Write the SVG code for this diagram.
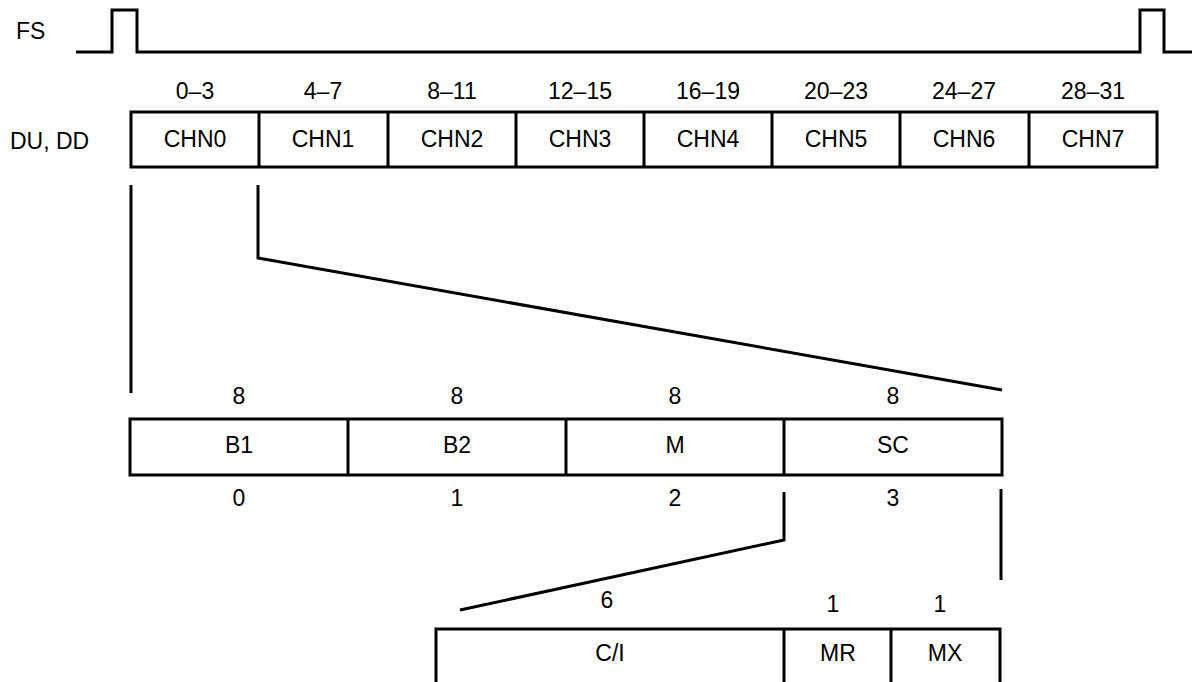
<svg xmlns="http://www.w3.org/2000/svg" width="1196" height="682" viewBox="0 0 1196 682">
<style>
text{font-family:"Liberation Sans",Arial,sans-serif;font-size:23px;fill:#000}
.c{text-anchor:middle}
.ln{fill:none;stroke:#000;stroke-width:3}
.bx{fill:#fff;stroke:#000;stroke-width:3}
</style>
<rect width="1196" height="682" fill="#fff"/>
<g id="fs">
<text x="16" y="39">FS</text>
<polyline class="ln" points="76,52 112,52 112,10 137,10 137,52 1140,52 1140,10 1164,10 1164,52 1192,52"/>
</g>
<g id="du-dd-label"><text x="10" y="149">DU, DD</text></g>
<g id="channels">
<rect class="bx" x="131" y="112" width="1026" height="55"/>
<path class="ln" d="M259,112V167M388,112V167M516,112V167M644,112V167M772,112V167M900,112V167M1029,112V167"/>
<text class="c" x="195" y="99">0–3</text>
<text class="c" x="323" y="99">4–7</text>
<text class="c" x="452" y="99">8–11</text>
<text class="c" x="580" y="99">12–15</text>
<text class="c" x="708" y="99">16–19</text>
<text class="c" x="836" y="99">20–23</text>
<text class="c" x="964" y="99">24–27</text>
<text class="c" x="1093" y="99">28–31</text>
<text class="c" x="195" y="147">CHN0</text>
<text class="c" x="323" y="147">CHN1</text>
<text class="c" x="452" y="147">CHN2</text>
<text class="c" x="580" y="147">CHN3</text>
<text class="c" x="708" y="147">CHN4</text>
<text class="c" x="836" y="147">CHN5</text>
<text class="c" x="964" y="147">CHN6</text>
<text class="c" x="1093" y="147">CHN7</text>
</g>
<g id="connectors">
<path class="ln" d="M131,185V393"/>
<polyline class="ln" points="258,185 258,258 1002,390"/>
<polyline class="ln" points="784,492 784,540 460,610"/>
<path class="ln" d="M1001,489V580"/>
</g>
<g id="bytes">
<rect class="bx" x="130" y="419" width="872" height="56"/>
<path class="ln" d="M348,419V475M566,419V475M784,419V475"/>
<text class="c" x="239" y="404">8</text>
<text class="c" x="457" y="404">8</text>
<text class="c" x="675" y="404">8</text>
<text class="c" x="893" y="404">8</text>
<text class="c" x="239" y="453">B1</text>
<text class="c" x="457" y="453">B2</text>
<text class="c" x="675" y="453">M</text>
<text class="c" x="893" y="453">SC</text>
<text class="c" x="239" y="506">0</text>
<text class="c" x="457" y="506">1</text>
<text class="c" x="675" y="506">2</text>
<text class="c" x="893" y="506">3</text>
</g>
<g id="bits">
<rect class="bx" x="436" y="629" width="564" height="70"/>
<path class="ln" d="M784,629V690M891,629V690"/>
<text class="c" x="607" y="608">6</text>
<text class="c" x="833" y="612">1</text>
<text class="c" x="940" y="612">1</text>
<text class="c" x="610" y="661">C/I</text>
<text class="c" x="838" y="661">MR</text>
<text class="c" x="945" y="661">MX</text>
</g>
</svg>
